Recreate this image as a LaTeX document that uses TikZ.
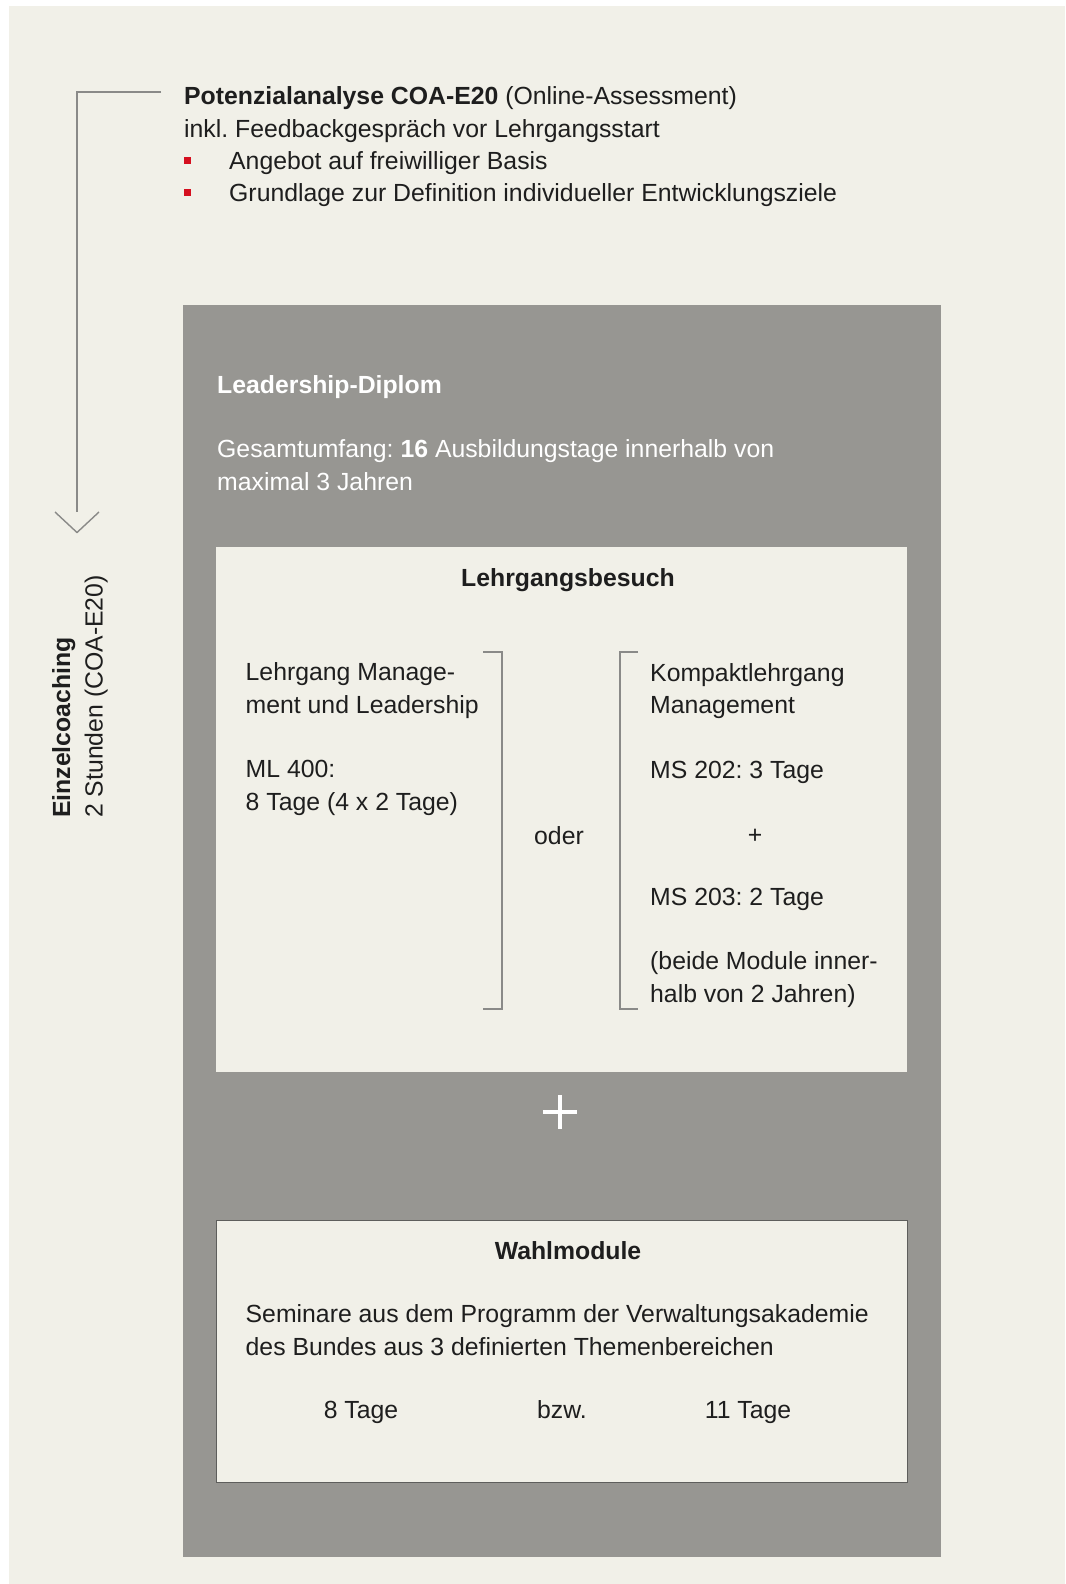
\documentclass[tikz,border=0pt]{standalone}
\usepackage{fontspec}
\setmainfont{Liberation Sans}
\usetikzlibrary{positioning}
\definecolor{paper}{HTML}{F1F0E8}
\definecolor{panelgray}{HTML}{979692}
\definecolor{ink}{HTML}{1E1E1E}
\definecolor{bulletred}{HTML}{D50F1F}
\definecolor{linegray}{HTML}{8A8A88}
\definecolor{framegray}{HTML}{5E5E5C}
\frenchspacing
\begin{document}
\begin{tikzpicture}[
    x=1pt, y=-1pt,
    every node/.style={inner sep=0pt, font=\fontsize{24.8}{32.3}\selectfont, text=ink},
    body/.style={anchor=base west, align=left},
    lighttext/.style={body, text=white},
    heading/.style={anchor=base, font=\fontsize{24.8}{32.3}\selectfont\bfseries},
    panel/.style={rectangle, anchor=north west, fill=paper},
    bullet/.style={rectangle, fill=bulletred, minimum size=7pt},
    connector/.style={draw=linegray, line width=1.4pt},
    bracket/.style={draw=linegray, line width=1.3pt}
]
% Page
\useasboundingbox (0,0) rectangle (1065,1584);
\fill[white] (0,0) rectangle (1065,1584);
\fill[paper] (9,6) rectangle (1065,1584);

% Potenzialanalyse (base = last line)
\node[body] (potenzial) at (184,137) {\textbf{Potenzialanalyse COA-E20} (Online-Assessment)\\inkl. Feedbackgespräch vor Lehrgangsstart};
\node[bullet] (b1) at (187.7,160.3) {};
\node[bullet] (b2) at (187.7,192.6) {};
\node[body] (angebot) at (229,169) {Angebot auf freiwilliger Basis};
\node[body] (grundlage) at (229,201) {Grundlage zur Definition individueller Entwicklungsziele};

% Einzelcoaching arrow
\coordinate (arrowstart) at (161,92);
\coordinate (arrowend) at (77,512);
\draw[connector] (arrowstart) -| (arrowend);
\draw[connector] ([xshift=-22pt]arrowend) -- ++(22,20.5) -- ++(22,-20.5);
\node[body, rotate=90] (coaching) at (102.5,818) {\textbf{Einzelcoaching}\\2 Stunden (COA-E20)};

% Leadership-Diplom
\node[panel, fill=panelgray, minimum width=758pt, minimum height=1252pt] (diplombox) at (183,305) {};
\node[lighttext, font=\fontsize{24.8}{32.3}\selectfont\bfseries] (diplom) at (217,393) {Leadership-Diplom};
\node[lighttext] (umfang) at (217,490) {Gesamtumfang: \textbf{16} Ausbildungstage innerhalb von\\maximal 3 Jahren};

% Lehrgangsbesuch
\node[panel, minimum width=691pt, minimum height=525pt] (besuchbox) at (216,547) {};
\node[heading] (besuch) at (568,586) {Lehrgangsbesuch};
\node[body] (ml) at (245.5,810) {Lehrgang Manage-\\ment und Leadership\\[32.3pt]ML 400:\\8 Tage (4 x 2 Tage)};
\node[anchor=base] (oder) at (559,844) {oder};
\node[body] (kompakt) at (650,778) {Kompaktlehrgang\\Management\\[32.3pt]MS 202: 3 Tage};
\node[anchor=base] (und) at (755,843) {+};
\node[body] (ms203) at (650,1002) {MS 203: 2 Tage\\[32.3pt](beide Module inner-\\halb von 2 Jahren)};
\draw[bracket] (483,652) -- (502,652) -- (502,1009) -- (483,1009);
\draw[bracket] (638,652) -- (620,652) -- (620,1009) -- (638,1009);

% Plus between the blocks
\node[minimum size=34pt] (plus) at (560,1112) {};
\draw[white, line width=4pt] (plus.west) -- (plus.east);
\draw[white, line width=4pt] (plus.north) -- (plus.south);

% Wahlmodule
\node[panel, draw=framegray, line width=1pt, minimum width=691pt, minimum height=262pt] (wahlbox) at (216,1220) {};
\node[heading] (wahl) at (568,1259) {Wahlmodule};
\node[body] (seminare) at (245.5,1355) {Seminare aus dem Programm der Verwaltungsakademie\\des Bundes aus 3 definierten Themenbereichen};
\node[anchor=base] (acht) at (361,1418) {8 Tage};
\node[anchor=base] (bzw) at (562,1418) {bzw.};
\node[anchor=base] (elf) at (748,1418) {11 Tage};
\end{tikzpicture}
\end{document}
